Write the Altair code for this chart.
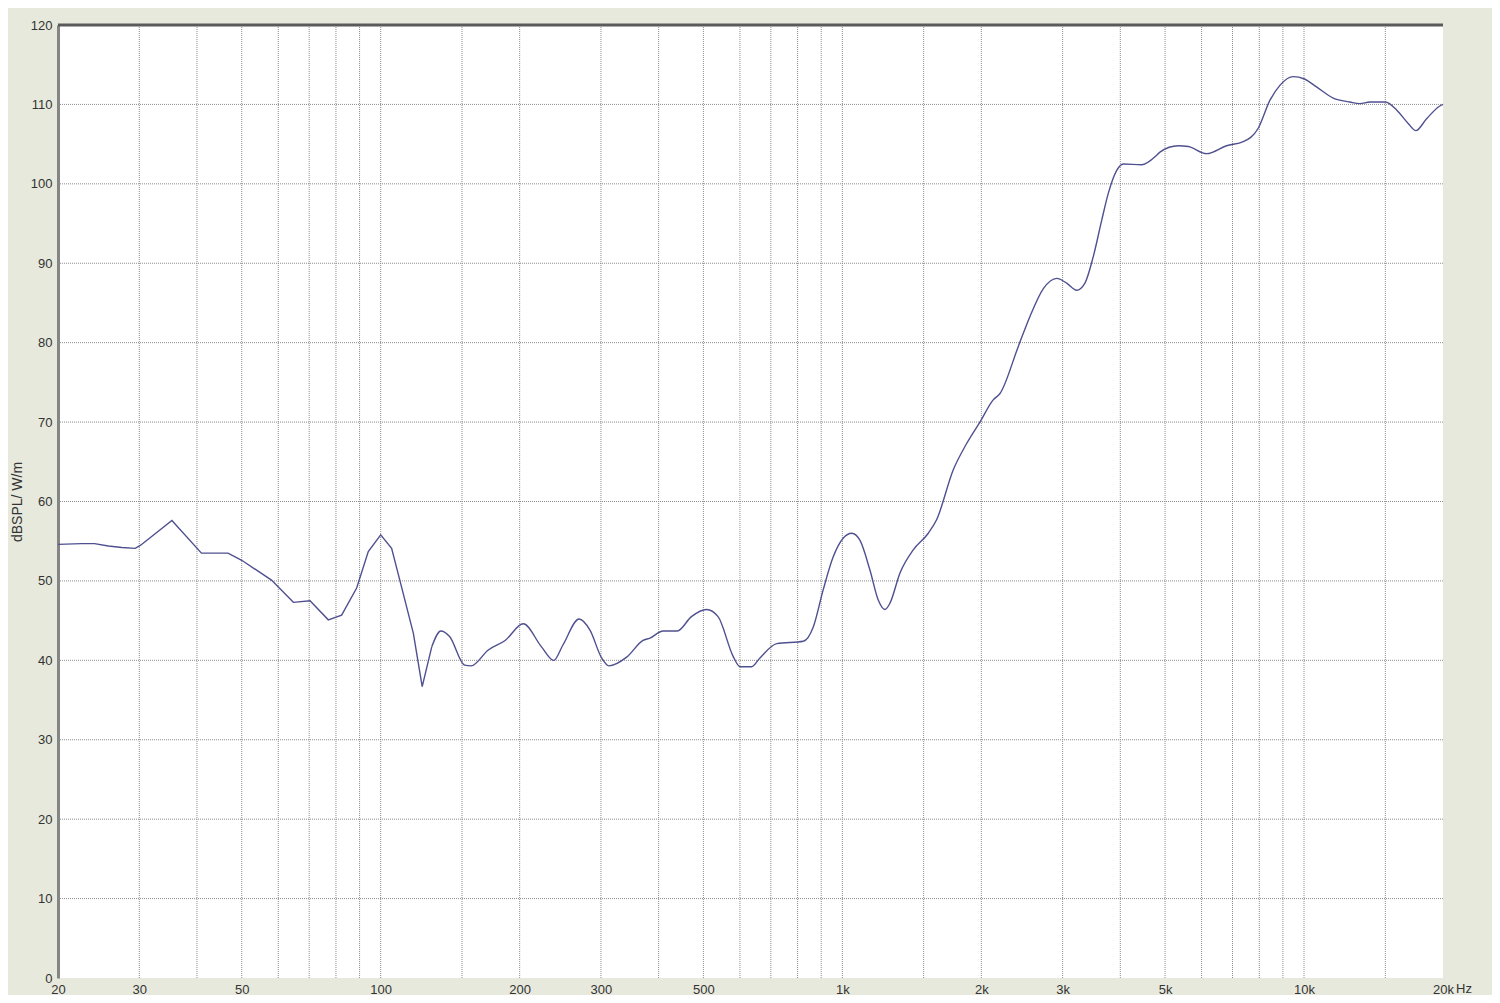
import altair as alt
import pandas as pd

# Frequency response samples (Hz, dB SPL)
freq = [20, 22.5, 24.0, 25.7, 27.5, 29.4, 30.2, 35.3, 40.9, 46.7, 50, 58, 64.7, 70.3, 77, 82.3,
        88.7, 94, 100, 105.6, 110, 117.7, 123, 129, 135, 141, 152, 157, 171, 186, 203.6, 223,
        237, 248, 269, 284, 301, 312, 341, 370, 383, 409, 439, 471, 508, 538, 580, 600, 636,
        663, 721, 823, 865, 909, 955, 1005, 1048, 1092, 1147, 1196, 1237, 1268, 1333, 1424,
        1535, 1600, 1739, 1859, 1986, 2122, 2195, 2404, 2549, 2725, 2912, 3061, 3217, 3353,
        3494, 3645, 3767, 3929, 4059, 4448, 4795, 4874, 5340, 5614, 6153, 6797, 7385, 7958,
        8434, 8865, 9475, 10020, 10645, 11569, 12576, 13213, 13889, 15000, 15867, 16811,
        17470, 18430, 19690, 20000]
spl = [54.6, 54.7, 54.7, 54.4, 54.2, 54.1, 54.5, 57.6, 53.5, 53.5, 52.6, 50.1, 47.3, 47.5, 45.1, 45.7,
       49.1, 53.7, 55.8, 54.1, 50.1, 43.4, 36.7, 41.7, 43.7, 43.0, 39.4, 39.3, 41.3, 42.5, 44.6, 41.7,
       40.0, 41.9, 45.2, 43.8, 40.3, 39.3, 40.4, 42.5, 42.8, 43.7, 43.7, 45.5, 46.4, 45.5, 40.5, 39.2, 39.2,
       40.3, 42.1, 42.4, 44.2, 48.9, 53.0, 55.4, 56.0, 55.1, 51.4, 47.6, 46.4, 47.2, 51.0, 53.9,
       56.0, 57.7, 64.0, 67.3, 70.0, 72.8, 73.6, 79.5, 83.3, 86.8, 88.1, 87.5, 86.6, 87.5,
       90.8, 95.4, 98.8, 101.7, 102.5, 102.4, 103.6, 104.0, 104.8, 104.7, 103.8, 104.8, 105.3, 107.0,
       110.5, 112.4, 113.5, 113.2, 112.2, 110.8, 110.3, 110.1, 110.3, 110.3, 109.3, 107.6,
       106.7, 108.2, 109.8, 110.0]

# below this frequency the trace is drawn as straight segments, above it smoothly
split_freq = 129

x_label_values = [20, 30, 50, 100, 200, 300, 500, 1000, 2000, 3000, 5000, 10000, 20000]
x_grid_values = [30, 40, 50, 60, 70, 80, 90, 100, 150, 200, 300, 400, 500, 600, 700, 800, 900,
                 1000, 1500, 2000, 3000, 4000, 5000, 6000, 7000, 8000, 9000, 10000, 15000]
y_grid_values = [10, 20, 30, 40, 50, 60, 70, 80, 90, 100, 110]
y_label_values = [0, 10, 20, 30, 40, 50, 60, 70, 80, 90, 100, 110, 120]

FONT = "Liberation Sans"
BG = "#E7E9DD"
LINE = "#4f5090"

df = pd.DataFrame({"f": freq, "db": spl})
df_low = df[df["f"] <= split_freq]
df_high = df[df["f"] >= split_freq]

xs = alt.Scale(type="log", domain=[20, 20000], nice=False)
ys = alt.Scale(domain=[0, 120], nice=False)

grid_style = dict(color="#8c8c8c", strokeWidth=1, strokeDash=[1, 1])

vgrid = alt.Chart(pd.DataFrame({"f": x_grid_values})).mark_rule(**grid_style).encode(
    x=alt.X("f:Q", scale=xs,
            axis=alt.Axis(values=x_label_values, title=None, grid=False, ticks=False, domain=False,
                          labelExpr="datum.value >= 1000 ? (datum.value / 1000) + 'k' : datum.value",
                          labelFont=FONT, labelFontSize=13, labelColor="#333333", labelPadding=5,
                          labelFlush=False, labelOverlap=False))
)

hgrid = alt.Chart(pd.DataFrame({"v": y_grid_values})).mark_rule(**grid_style).encode(
    y=alt.Y("v:Q", scale=ys,
            axis=alt.Axis(values=y_label_values, title="dBSPL/ W/m", grid=False, ticks=False,
                          domain=True, domainColor="#858585", domainWidth=3,
                          labelFont=FONT, labelFontSize=13, labelColor="#333333", labelPadding=6,
                          labelFlush=False, labelOverlap=False,
                          titleFont=FONT, titleFontSize=14, titleFontWeight="normal",
                          titleColor="#333333", titlePadding=6))
)

top_border = alt.Chart(pd.DataFrame({"v": [120]})).mark_rule(color="#5a5a5a", strokeWidth=3).encode(
    y=alt.Y("v:Q", scale=ys)
)

curve_low = alt.Chart(df_low).mark_line(color=LINE, strokeWidth=1.4).encode(
    x=alt.X("f:Q", scale=xs),
    y=alt.Y("db:Q", scale=ys),
    order=alt.Order("f:Q"),
)

curve_high = alt.Chart(df_high).mark_line(color=LINE, strokeWidth=1.4, interpolate="monotone").encode(
    x=alt.X("f:Q", scale=xs),
    y=alt.Y("db:Q", scale=ys),
    order=alt.Order("f:Q"),
)

unit = alt.Chart(pd.DataFrame({"f": [20000], "t": ["Hz"]})).mark_text(
    align="left", baseline="top", dx=13, font=FONT, fontSize=13, color="#333333"
).encode(
    x=alt.X("f:Q", scale=xs),
    y=alt.value(958),
    text="t:N",
)

chart = alt.layer(vgrid, hgrid, top_border, curve_low, curve_high, unit).properties(
    width=1385,
    height=953,
    autosize=alt.AutoSizeParams(type="none"),
    padding={"left": 50, "top": 17, "right": 49, "bottom": 17},
    background=BG,
).configure_view(fill="white", stroke=None)

chart.save("out.html", embed_options={"renderer": "svg", "actions": False})
